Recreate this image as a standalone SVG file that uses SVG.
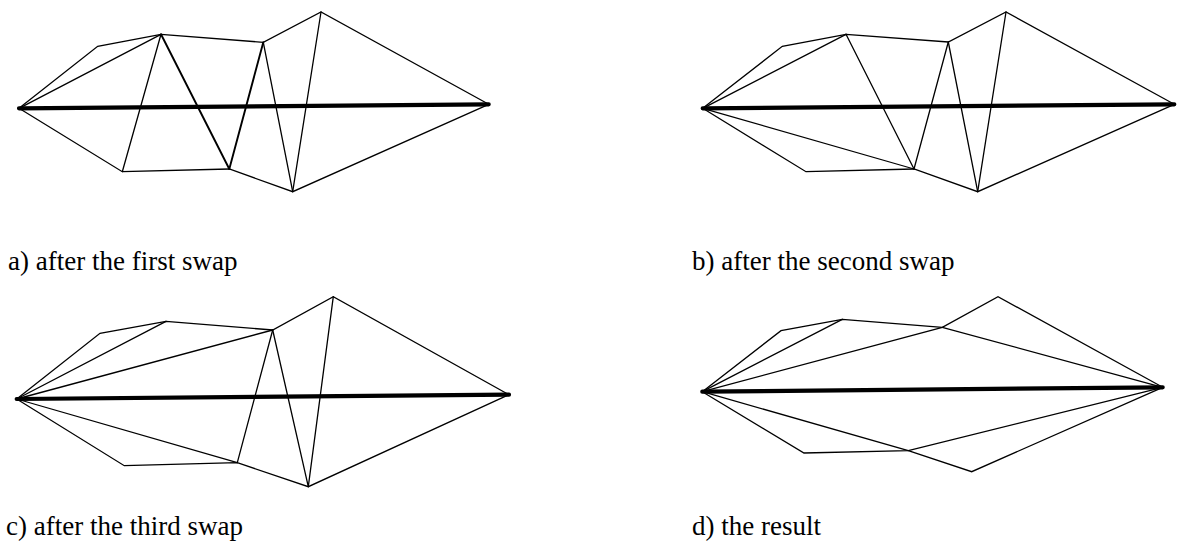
<svg xmlns="http://www.w3.org/2000/svg" width="1177" height="543" viewBox="0 0 1177 543">
<style>
  .e { stroke: #000; stroke-width: 1.3; fill: none; stroke-linecap: round; }
  .s { stroke: #000; stroke-width: 1.9; fill: none; stroke-linecap: round; }
  .t { stroke: #000; stroke-width: 4.2; fill: none; stroke-linecap: round; }
  .lbl { font-family: "Liberation Serif", "Times New Roman", serif; font-size: 27px; fill: #000; }
</style>
<rect width="1177" height="543" fill="#fff"/>

<g id="panel-a">
  <g id="edges-a">
    <polyline class="e" points="19,108.3 97.7,46.3 161,34.3 263.3,42.3 321,12 488.7,104.3"/>
    <polyline class="e" points="19,108.3 122.3,171.7 229.3,169 292.7,191.7 488.7,104.3"/>
    <line class="e" x1="19" y1="108.3" x2="161" y2="34.3"/>
    <line class="e" x1="161" y1="34.3" x2="122.3" y2="171.7"/>
    <line class="s" x1="161" y1="34.3" x2="229.3" y2="169"/>
    <line class="s" x1="229.3" y1="169" x2="263.3" y2="42.3"/>
    <line class="e" x1="263.3" y1="42.3" x2="292.7" y2="191.7"/>
    <line class="e" x1="292.7" y1="191.7" x2="321" y2="12"/>
    <line class="t" x1="19" y1="108.3" x2="488.7" y2="104.3"/>
  </g>
  <text class="lbl" x="8" y="270">a) after the first swap</text>
</g>

<g id="panel-b">
  <g id="edges-b">
    <polyline class="e" points="702.7,108.3 782.3,46.3 846,34.3 948.3,42 1006,12 1174.3,104.3"/>
    <polyline class="e" points="702.7,108.3 806,171.7 914,169 977.7,191.7 1174.3,104.3"/>
    <line class="e" x1="702.7" y1="108.3" x2="846" y2="34.3"/>
    <line class="e" x1="702.7" y1="108.3" x2="914" y2="169"/>
    <line class="e" x1="846" y1="34.3" x2="914" y2="169"/>
    <line class="e" x1="914" y1="169" x2="948.3" y2="42"/>
    <line class="e" x1="948.3" y1="42" x2="977.7" y2="191.7"/>
    <line class="e" x1="977.7" y1="191.7" x2="1006" y2="12"/>
    <line class="t" x1="702.7" y1="108.3" x2="1174.3" y2="104.3"/>
  </g>
  <text class="lbl" x="692" y="270">b) after the second swap</text>
</g>

<g id="panel-c">
  <g id="edges-c">
    <polyline class="e" points="16.7,399 100,333.3 166,321.3 272.7,330 333.3,296.7 509,394.7"/>
    <polyline class="e" points="16.7,399 124.3,465.7 237.3,462.7 308.3,486.7 509,394.7"/>
    <line class="e" x1="16.7" y1="399" x2="166" y2="321.3"/>
    <line class="e" x1="16.7" y1="399" x2="272.7" y2="330"/>
    <line class="e" x1="16.7" y1="399" x2="237.3" y2="462.7"/>
    <line class="e" x1="237.3" y1="462.7" x2="272.7" y2="330"/>
    <line class="e" x1="272.7" y1="330" x2="308.3" y2="486.7"/>
    <line class="e" x1="308.3" y1="486.7" x2="333.3" y2="296.7"/>
    <line class="t" x1="16.7" y1="399" x2="509" y2="394.7"/>
  </g>
  <text class="lbl" x="6" y="535">c) after the third swap</text>
</g>

<g id="panel-d">
  <g id="edges-d">
    <polyline class="e" points="702.3,391.7 781,330.7 842.3,319.3 942.3,327.3 1162.7,387.3"/>
    <polyline class="e" points="702.3,391.7 942.3,327.3 998,296.7 1162.7,387.3"/>
    <line class="e" x1="702.3" y1="391.7" x2="842.3" y2="319.3"/>
    <polyline class="e" points="702.3,391.7 804,453 908.3,450.7 1162.7,387.3"/>
    <polyline class="e" points="702.3,391.7 908.3,450.7 971.7,471.7 1162.7,387.3"/>
    <line class="t" x1="702.3" y1="391.7" x2="1162.7" y2="387.3"/>
  </g>
  <text class="lbl" x="692" y="535">d) the result</text>
</g>
</svg>
